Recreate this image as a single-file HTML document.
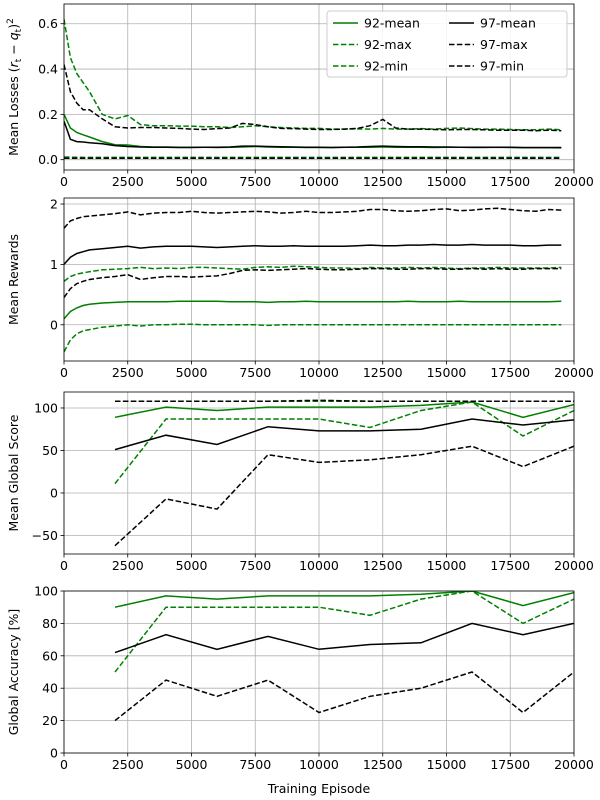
<!DOCTYPE html>
<html><head><meta charset="utf-8"><style>
body{margin:0;background:#fff}
svg{display:block;font-family:"DejaVu Sans","Liberation Sans",sans-serif}
</style></head><body>
<svg id="fig" width="600" height="800"></svg>
<script>
// ---- data ----
const epDense=[0,250,500,750,1000,1500,2000,2500,3000,3500,4000,4500,5000,5500,6000,6500,7000,7500,8000,8500,9000,9500,10000,10500,11000,11500,12000,12500,13000,13500,14000,14500,15000,15500,16000,16500,17000,17500,18000,18500,19000,19500];
const loss92mean=[0.20,0.14,0.12,0.11,0.10,0.08,0.066,0.065,0.058,0.056,0.056,0.055,0.055,0.055,0.054,0.055,0.056,0.058,0.056,0.055,0.055,0.054,0.054,0.054,0.055,0.055,0.055,0.056,0.055,0.055,0.055,0.054,0.055,0.055,0.054,0.054,0.055,0.054,0.053,0.053,0.053,0.052];
const loss92max=[0.62,0.45,0.38,0.34,0.30,0.20,0.18,0.195,0.155,0.15,0.15,0.148,0.148,0.145,0.145,0.142,0.145,0.150,0.145,0.142,0.140,0.138,0.138,0.135,0.135,0.136,0.135,0.138,0.135,0.135,0.137,0.135,0.138,0.140,0.137,0.135,0.135,0.133,0.132,0.132,0.135,0.132];
const loss92min=[0.012,0.011,0.011,0.010,0.010,0.010,0.010,0.010,0.010,0.010,0.010,0.010,0.010,0.010,0.010,0.010,0.010,0.010,0.010,0.010,0.010,0.010,0.010,0.010,0.010,0.010,0.010,0.010,0.010,0.010,0.010,0.010,0.010,0.010,0.010,0.010,0.010,0.010,0.010,0.010,0.010,0.010];
const loss97mean=[0.17,0.09,0.08,0.078,0.075,0.07,0.062,0.058,0.056,0.055,0.055,0.054,0.054,0.055,0.055,0.056,0.060,0.060,0.058,0.057,0.056,0.055,0.055,0.054,0.055,0.056,0.058,0.060,0.058,0.057,0.057,0.056,0.056,0.055,0.055,0.055,0.055,0.055,0.054,0.054,0.054,0.054];
const loss97max=[0.42,0.30,0.25,0.22,0.22,0.18,0.145,0.14,0.142,0.142,0.14,0.138,0.135,0.133,0.137,0.140,0.160,0.155,0.145,0.138,0.137,0.135,0.133,0.133,0.135,0.138,0.150,0.178,0.140,0.135,0.135,0.133,0.132,0.133,0.133,0.132,0.130,0.130,0.130,0.128,0.130,0.128];
const loss97min=[0.006,0.006,0.006,0.006,0.006,0.006,0.006,0.006,0.006,0.006,0.006,0.006,0.006,0.006,0.006,0.006,0.006,0.006,0.006,0.006,0.006,0.006,0.006,0.006,0.006,0.006,0.006,0.006,0.006,0.006,0.006,0.006,0.006,0.006,0.006,0.006,0.006,0.006,0.006,0.006,0.006,0.006];

const rew92mean=[0.10,0.22,0.28,0.32,0.34,0.36,0.37,0.38,0.38,0.38,0.38,0.39,0.39,0.39,0.39,0.38,0.38,0.38,0.37,0.38,0.38,0.39,0.38,0.38,0.38,0.38,0.38,0.38,0.38,0.39,0.38,0.38,0.38,0.39,0.38,0.38,0.38,0.38,0.38,0.38,0.38,0.39];
const rew92max=[0.72,0.80,0.84,0.86,0.88,0.91,0.92,0.93,0.95,0.93,0.94,0.93,0.95,0.95,0.94,0.93,0.92,0.95,0.96,0.95,0.97,0.96,0.95,0.94,0.94,0.93,0.95,0.94,0.94,0.95,0.94,0.95,0.94,0.93,0.94,0.94,0.95,0.94,0.94,0.94,0.94,0.95];
const rew92min=[-0.45,-0.25,-0.15,-0.10,-0.08,-0.04,-0.02,0.00,-0.02,0.00,0.00,0.01,0.01,0.00,0.00,0.00,0.00,0.00,-0.01,0.00,0.00,0.00,0.00,0.00,0.00,0.00,0.00,0.00,0.00,0.00,0.00,0.00,0.00,0.00,0.00,0.00,0.00,0.00,0.00,0.00,0.00,0.00];
const rew97mean=[1.00,1.12,1.18,1.21,1.24,1.26,1.28,1.30,1.27,1.29,1.30,1.30,1.30,1.29,1.28,1.29,1.30,1.31,1.30,1.30,1.31,1.30,1.30,1.30,1.30,1.31,1.32,1.31,1.31,1.32,1.32,1.33,1.32,1.32,1.33,1.32,1.32,1.32,1.31,1.31,1.32,1.32];
const rew97max=[1.60,1.72,1.76,1.79,1.80,1.82,1.84,1.87,1.82,1.85,1.86,1.86,1.88,1.86,1.85,1.86,1.87,1.88,1.87,1.85,1.86,1.88,1.86,1.86,1.87,1.88,1.91,1.91,1.89,1.88,1.89,1.91,1.92,1.89,1.90,1.92,1.93,1.91,1.89,1.88,1.91,1.90];
const rew97min=[0.45,0.60,0.68,0.72,0.75,0.78,0.80,0.83,0.75,0.78,0.80,0.80,0.79,0.80,0.81,0.85,0.90,0.91,0.90,0.91,0.92,0.93,0.92,0.91,0.91,0.92,0.93,0.93,0.92,0.92,0.93,0.93,0.92,0.92,0.93,0.92,0.93,0.92,0.92,0.93,0.93,0.93];

const epSparse=[2000,4000,6000,8000,10000,12000,14000,16000,18000,20000];
const score92mean=[89,101,97,101,101,101,103,107,89,104];
const score92max=[108,108,108,108,108,108,108,108,108,108];
const score92min=[11,87,87,87,87,77,97,107,67,97];
const score97mean=[51,68,57,78,73,73,75,87,80,86];
const score97max=[108,108,108,108,109,108,108,108,108,108];
const score97min=[-62,-7,-19,45,36,39,45,55,31,55];

const acc92mean=[90,97,95,97,97,97,98,100,91,99];
const acc92max=[100,100,100,100,100,100,100,100,100,100];
const acc92min=[50,90,90,90,90,85,95,100,80,95];
const acc97mean=[62,73,64,72,64,67,68,80,73,80];
const acc97max=[100,100,100,100,100,100,100,100,100,100];
const acc97min=[20,45,35,45,25,35,40,50,25,50];

const xTicks=[0,2500,5000,7500,10000,12500,15000,17500,20000];

// ---- drawing ----
const NS="http://www.w3.org/2000/svg";
const svg=document.getElementById('fig');
function mk(t,a,p){const e=document.createElementNS(NS,t);for(const k in a)e.setAttribute(k,a[k]);(p||svg).appendChild(e);return e;}
const X0=64,X1=574;
const xs=v=>X0+(v/20000)*(X1-X0);
const GREEN="#008000",BLACK="#000000";

function panel(name,top,bot,ymin,ymax,yticks,ylabel,series,xArr){
  const g=mk('g',{});
  
  
  const ys=v=>bot-(v-ymin)/(ymax-ymin)*(bot-top);
  xTicks.forEach(t=>{const l=mk('line',{x1:xs(t),x2:xs(t),y1:top,y2:bot,stroke:'#b0b0b0','stroke-width':0.8},g);});
  yticks.forEach(t=>{const l=mk('line',{x1:X0,x2:X1,y1:ys(t),y2:ys(t),stroke:'#b0b0b0','stroke-width':0.8},g);});
  const clip='c'+name;
  const cp=mk('clipPath',{id:clip},g);mk('rect',{x:X0,y:top,width:X1-X0,height:bot-top},cp);
  series.forEach(s=>{
    const d=s.vals.map((v,i)=>(i?'L':'M')+xs(xArr[i]).toFixed(1)+' '+ys(v).toFixed(1)).join(' ');
    const p=mk('path',{d:d,fill:'none',stroke:s.c,'stroke-width':1.5,'stroke-dasharray':s.dash?'5.5,2.4':'none','clip-path':'url(#'+clip+')'},g);
    
    
  });
  const f=mk('rect',{x:X0,y:top,width:X1-X0,height:bot-top,fill:'none',stroke:'#000','stroke-width':0.8},g);
  
  xTicks.forEach(t=>{mk('line',{x1:xs(t),x2:xs(t),y1:bot,y2:bot+3.5,stroke:'#000','stroke-width':0.8},g);
    const tx=mk('text',{x:xs(t),y:bot+16,'font-size':12.5,'text-anchor':'middle'},g);tx.textContent=t;
    });
  yticks.forEach(t=>{mk('line',{x1:X0-3.5,x2:X0,y1:ys(t),y2:ys(t),stroke:'#000','stroke-width':0.8},g);
    const tx=mk('text',{x:X0-6,y:ys(t)+4.5,'font-size':12.5,'text-anchor':'end'},g);tx.textContent=(name==='loss-panel')?t.toFixed(1):String(t).replace('-','\u2212');
    });
  const yl=mk('text',{x:0,y:0,'font-size':12.5,'text-anchor':'middle',transform:`translate(18,${(top+bot)/2}) rotate(-90)`},g);
  yl.innerHTML=ylabel;
  
}

panel('loss-panel',4,170,-0.0455,0.687,[0,0.2,0.4,0.6],'Mean Losses (<tspan font-style="italic">r</tspan><tspan font-size="9" dy="3">t</tspan><tspan dy="-3"> \u2212 </tspan><tspan font-style="italic">q</tspan><tspan font-size="9" dy="3">t</tspan><tspan dy="-3">)</tspan><tspan font-size="9" dy="-5">2</tspan>',[
 {n:'line-92-mean',vals:loss92mean,c:GREEN},{n:'line-92-max',vals:loss92max,c:GREEN,dash:1},{n:'line-92-min',vals:loss92min,c:GREEN,dash:1},
 {n:'line-97-mean',vals:loss97mean,c:BLACK},{n:'line-97-max',vals:loss97max,c:BLACK,dash:1},{n:'line-97-min',vals:loss97min,c:BLACK,dash:1}],epDense);
panel('reward-panel',198,361,-0.6,2.1,[0,1,2],'Mean Rewards',[
 {n:'line-92-mean',vals:rew92mean,c:GREEN},{n:'line-92-max',vals:rew92max,c:GREEN,dash:1},{n:'line-92-min',vals:rew92min,c:GREEN,dash:1},
 {n:'line-97-mean',vals:rew97mean,c:BLACK},{n:'line-97-max',vals:rew97max,c:BLACK,dash:1},{n:'line-97-min',vals:rew97min,c:BLACK,dash:1}],epDense);
panel('score-panel',392,554,-71.8,118.8,[-50,0,50,100],'Mean Global Score',[
 {n:'line-92-max',vals:score92max,c:GREEN,dash:1},{n:'line-92-mean',vals:score92mean,c:GREEN},{n:'line-92-min',vals:score92min,c:GREEN,dash:1},
 {n:'line-97-mean',vals:score97mean,c:BLACK},{n:'line-97-max',vals:score97max,c:BLACK,dash:1},{n:'line-97-min',vals:score97min,c:BLACK,dash:1}],epSparse);
panel('accuracy-panel',591,753,0,100,[0,20,40,60,80,100],'Global Accuracy [%]',[
 {n:'line-92-mean',vals:acc92mean,c:GREEN},{n:'line-92-min',vals:acc92min,c:GREEN,dash:1},
 {n:'line-97-mean',vals:acc97mean,c:BLACK},{n:'line-97-min',vals:acc97min,c:BLACK,dash:1}],epSparse);

const xl=mk('text',{x:319,y:793,'font-size':12.5,'text-anchor':'middle'});xl.textContent='Training Episode';


const lg=mk('g',{});


mk('rect',{x:327,y:11,width:240,height:66,rx:3,fill:'#fff','fill-opacity':0.85,stroke:'#cccccc','stroke-width':1},lg);
const legItems=[['92-mean',GREEN,0,0,0],['92-max',GREEN,1,0,1],['92-min',GREEN,1,0,2],['97-mean',BLACK,0,1,0],['97-max',BLACK,1,1,1],['97-min',BLACK,1,1,2]];
legItems.forEach(([t,c,d,col,row])=>{
  const e=mk('g',{},lg);
  
  
  const x=col?449:333,y=23+row*21.5;
  mk('line',{x1:x,x2:x+25,y1:y,y2:y,stroke:c,'stroke-width':1.5,'stroke-dasharray':d?'5.5,2.4':'none'},e);
  const tx=mk('text',{x:x+31,y:y+4.5,'font-size':12.5},e);tx.textContent=t;
});
</script>
</body></html>
